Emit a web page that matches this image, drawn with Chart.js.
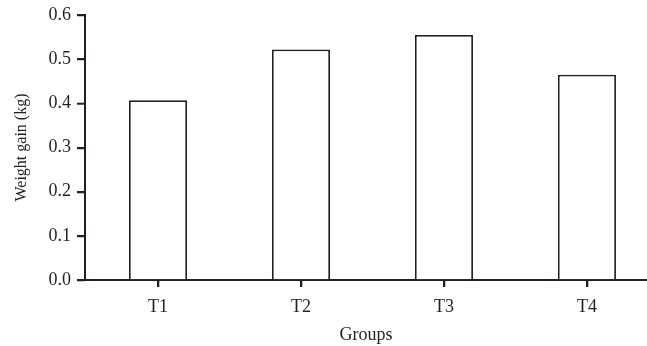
<!DOCTYPE html>
<html>
<head>
<meta charset="utf-8">
<script src="https://cdn.jsdelivr.net/npm/chart.js@4"></script>
<style>
  html, body { margin: 0; padding: 0; background: #fff; }
  #wrap { width: 647px; height: 346px; }
</style>
</head>
<body>
<div id="wrap"><canvas id="c" width="647" height="346"></canvas></div>
<script>
const categories = ["T1", "T2", "T3", "T4"];
const weightGain = [0.407, 0.522, 0.555, 0.465];
const yTicks = [0.0, 0.1, 0.2, 0.3, 0.4, 0.5, 0.6];

const ink = '#231f20';
const fam = '"Liberation Serif", "Times New Roman", serif';
const font = { family: fam, size: 18, lineHeight: 1.0 };

const tickMarks = {
  id: 'tickMarks',
  afterDraw(chart) {
    const ctx = chart.ctx;
    const xs = chart.scales.x, ys = chart.scales.y;
    ctx.save();
    ctx.strokeStyle = ink;
    ctx.lineWidth = 1.6;
    ctx.beginPath();
    xs.ticks.forEach(t => {
      const px = Math.round(xs.getPixelForValue(t.value)) + 0.5;
      ctx.moveTo(px, xs.top);
      ctx.lineTo(px, xs.top + 7);
    });
    ys.ticks.forEach(t => {
      const py = Math.round(ys.getPixelForValue(t.value)) + 0.5;
      ctx.moveTo(ys.right - 8, py);
      ctx.lineTo(ys.right, py);
    });
    ctx.stroke();
    ctx.restore();
  }
};

new Chart(document.getElementById('c'), {
  type: 'bar',
  data: {
    datasets: [{
      data: categories.map((c, i) => ({ x: i + 1, y: weightGain[i] })),
      backgroundColor: '#ffffff',
      borderColor: ink,
      borderWidth: 1.8,
      borderSkipped: 'bottom',
      barPercentage: 1,
      categoryPercentage: 0.406
    }]
  },
  plugins: [tickMarks],
  options: {
    responsive: false,
    animation: false,
    devicePixelRatio: 1,
    layout: { padding: { top: 4, right: 0, bottom: 0, left: 12 } },
    plugins: { legend: { display: false }, tooltip: { enabled: false } },
    scales: {
      x: {
        type: 'linear',
        offset: false,
        min: 0.4895,
        max: 4.42,
        afterBuildTicks: s => { s.ticks = categories.map((c, i) => ({ value: i + 1 })); },
        ticks: {
          color: ink, font: font, padding: 11,
          callback: v => categories[v - 1] || ''
        },
        grid: { display: true, offset: false, drawOnChartArea: false, color: ink, lineWidth: 1.6, tickLength: 7 },
        border: { display: true, color: ink, width: 2 },
        title: { display: true, text: 'Groups', color: ink, font: { family: fam, size: 18 }, padding: { top: 6, bottom: 0 } },
        afterFit: s => { s.height = 66; }
      },
      y: {
        min: 0,
        max: 0.6,
        afterBuildTicks: s => { s.ticks = yTicks.map(v => ({ value: v })); },
        ticks: {
          color: ink, font: font, padding: 6,
          callback: v => Number(v).toFixed(1)
        },
        grid: { display: true, drawOnChartArea: false, color: ink, lineWidth: 1.6, tickLength: 8 },
        border: { display: true, color: ink, width: 2 },
        title: { display: true, text: 'Weight gain (kg)', color: ink, font: { family: fam, size: 16 }, padding: { top: 0, bottom: 5 } },
        afterFit: s => { s.width = 73; }
      }
    }
  }
});
</script>
</body>
</html>
